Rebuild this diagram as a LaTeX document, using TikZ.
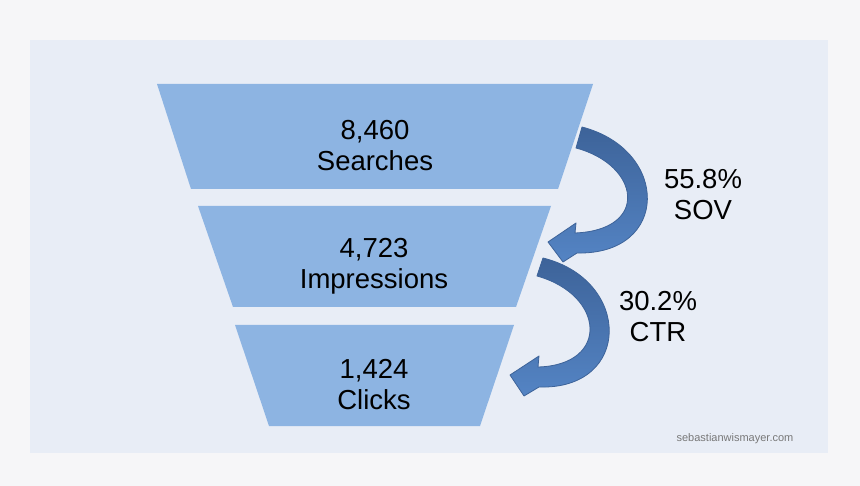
\documentclass[tikz,border=0pt]{standalone}
\usepackage{fontspec}
\setmainfont{Liberation Sans}
\usepackage{xcolor}
\definecolor{pagegray}{RGB}{246,246,248}
\definecolor{panelblue}{RGB}{232,237,246}
\definecolor{funnelblue}{RGB}{141,180,226}
\definecolor{arrowdark}{RGB}{61,99,153}
\definecolor{arrowlight}{RGB}{84,132,196}
\definecolor{markgray}{RGB}{120,120,120}

\begin{document}
\begin{tikzpicture}[x=1pt,y=-1pt]
  \tikzstyle{funnel}=[fill=funnelblue];
  \tikzstyle{stage}=[text=black, align=center, font=\fontsize{27.5}{31}\selectfont];
  \tikzstyle{rate}=[text=black, align=center, font=\fontsize{27.5}{31}\selectfont];
  \tikzstyle{curvearrow}=[draw=arrowdark, line width=0.8pt, line join=round,
    top color=arrowdark, bottom color=arrowlight];
  %
  % background
  \fill[pagegray] (0,0) rectangle (860,486);
  \fill[panelblue] (30,40) rectangle (828,453);
  %
  % funnel stages
  \fill[funnel] (157,84) -- (593,84) -- (558,189) -- (191,189) -- cycle;
  \node[stage] (searches) at (375,146) {8,460\\Searches};
  %
  \fill[funnel] (198,206) -- (551,206) -- (516,307) -- (233,307) -- cycle;
  \node[stage] (impressions) at (374,266) {4,723\\Impressions};
  %
  \fill[funnel] (235,325) -- (514,325) -- (480,426) -- (269,426) -- cycle;
  \node[stage] (clicks) at (374,385) {1,424\\Clicks};
  %
  % curved arrows
  \path[curvearrow] (582,127) .. controls (670,150) and (670,255) .. (577,253)
    -- (563,262) -- (548,242) -- (576,223) -- (575,233)
    .. controls (650,230) and (640,165) .. (576,148) -- cycle;
  %
  \path[curvearrow] (543,258) .. controls (632,280) and (632,390) .. (539,387)
    -- (524,396) -- (510,375) -- (539,356) -- (538,367)
    .. controls (610,365) and (605,295) .. (537,276) -- cycle;
  %
  % rates
  \node[rate] (sov) at (703,195) {55.8\%\\SOV};
  \node[rate] (ctr) at (658,317) {30.2\%\\CTR};
  %
  \node[text=markgray, font=\fontsize{11}{13}\selectfont] (site) at (735,439)
    {sebastianwismayer.com};
\end{tikzpicture}
\end{document}
